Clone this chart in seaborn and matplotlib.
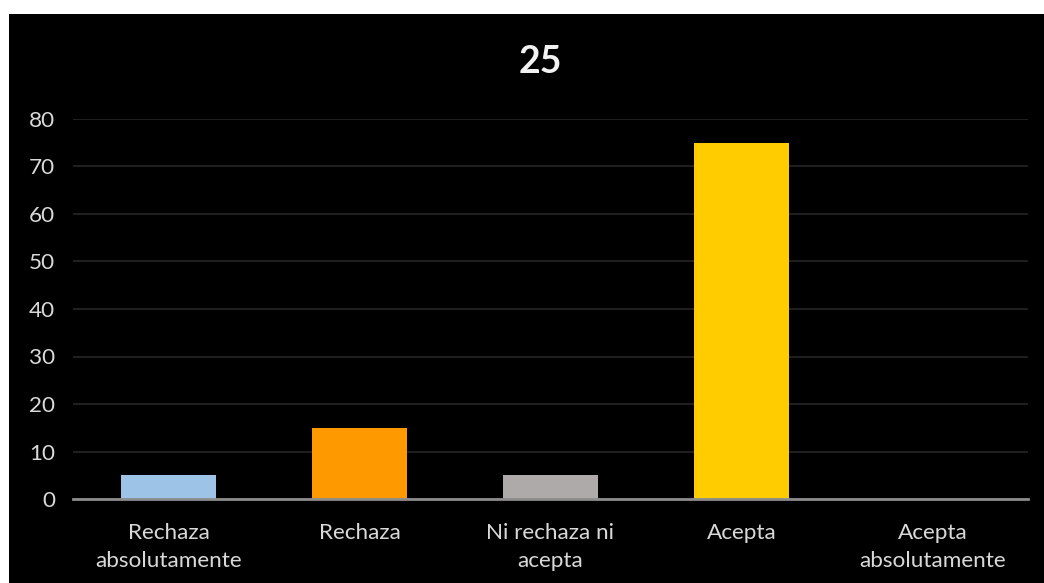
import matplotlib
matplotlib.use("Agg")
import matplotlib.pyplot as plt
import seaborn as sns
import pandas as pd
from matplotlib.patches import Rectangle

categories = ["Rechaza\nabsolutamente", "Rechaza", "Ni rechaza ni\nacepta", "Acepta", "Acepta\nabsolutamente"]
values = [5, 15, 5, 75, 0]
colors = ["#9DC3E6", "#FF9900", "#AEAAAA", "#FFCC00", "#5B9BD5"]
yticks = [0, 10, 20, 30, 40, 50, 60, 70, 80]
title = "25"

sns.set_theme(style="dark")
plt.rcParams["font.family"] = ["Lato", "DejaVu Sans"]

df = pd.DataFrame({"categoria": categories, "valor": values})

W, H = 1044, 583
fig = plt.figure(figsize=(W / 100, H / 100), dpi=100, facecolor="white")
# black chart background inside a thin white margin (top and left)
fig.patches.append(Rectangle((9 / W, 0), 1, (H - 14) / H, transform=fig.transFigure,
                             facecolor="black", edgecolor="none", zorder=-10))

ax = fig.add_axes([73 / W, (H - 499) / H, (1028 - 73) / W, (499 - 119) / H])
ax.set_facecolor("black")

sns.barplot(data=df, x="categoria", y="valor", hue="categoria", palette=colors,
            width=0.5, legend=False, ax=ax, zorder=3, saturation=1,
            edgecolor="none", linewidth=0)

ax.set_ylim(0, 80)
ax.set_xlim(-0.5, len(categories) - 0.5)
ax.set_yticks(yticks)
ax.set_xlabel("")
ax.set_ylabel("")

ax.grid(axis="y", color="#262626", linewidth=1.2, zorder=0)
ax.grid(axis="x", visible=False)
for side in ["top", "right", "left"]:
    ax.spines[side].set_visible(False)
ax.spines["bottom"].set_color("#8C8C8C")
ax.spines["bottom"].set_linewidth(2)
ax.spines["bottom"].set_zorder(4)

ax.tick_params(axis="y", length=0, pad=13, labelsize=16.2, labelcolor="#D9D9D9")
ax.tick_params(axis="x", length=0, pad=17, labelsize=16.2, labelcolor="#D9D9D9")
for lbl in ax.get_xticklabels():
    lbl.set_linespacing(1.55)

fig.text(540 / W, (H - 62) / H, title, ha="center", va="center",
         fontsize=27, fontweight="bold", color="#F2F2F2")

fig.savefig("out.png", dpi=100, facecolor="white")
